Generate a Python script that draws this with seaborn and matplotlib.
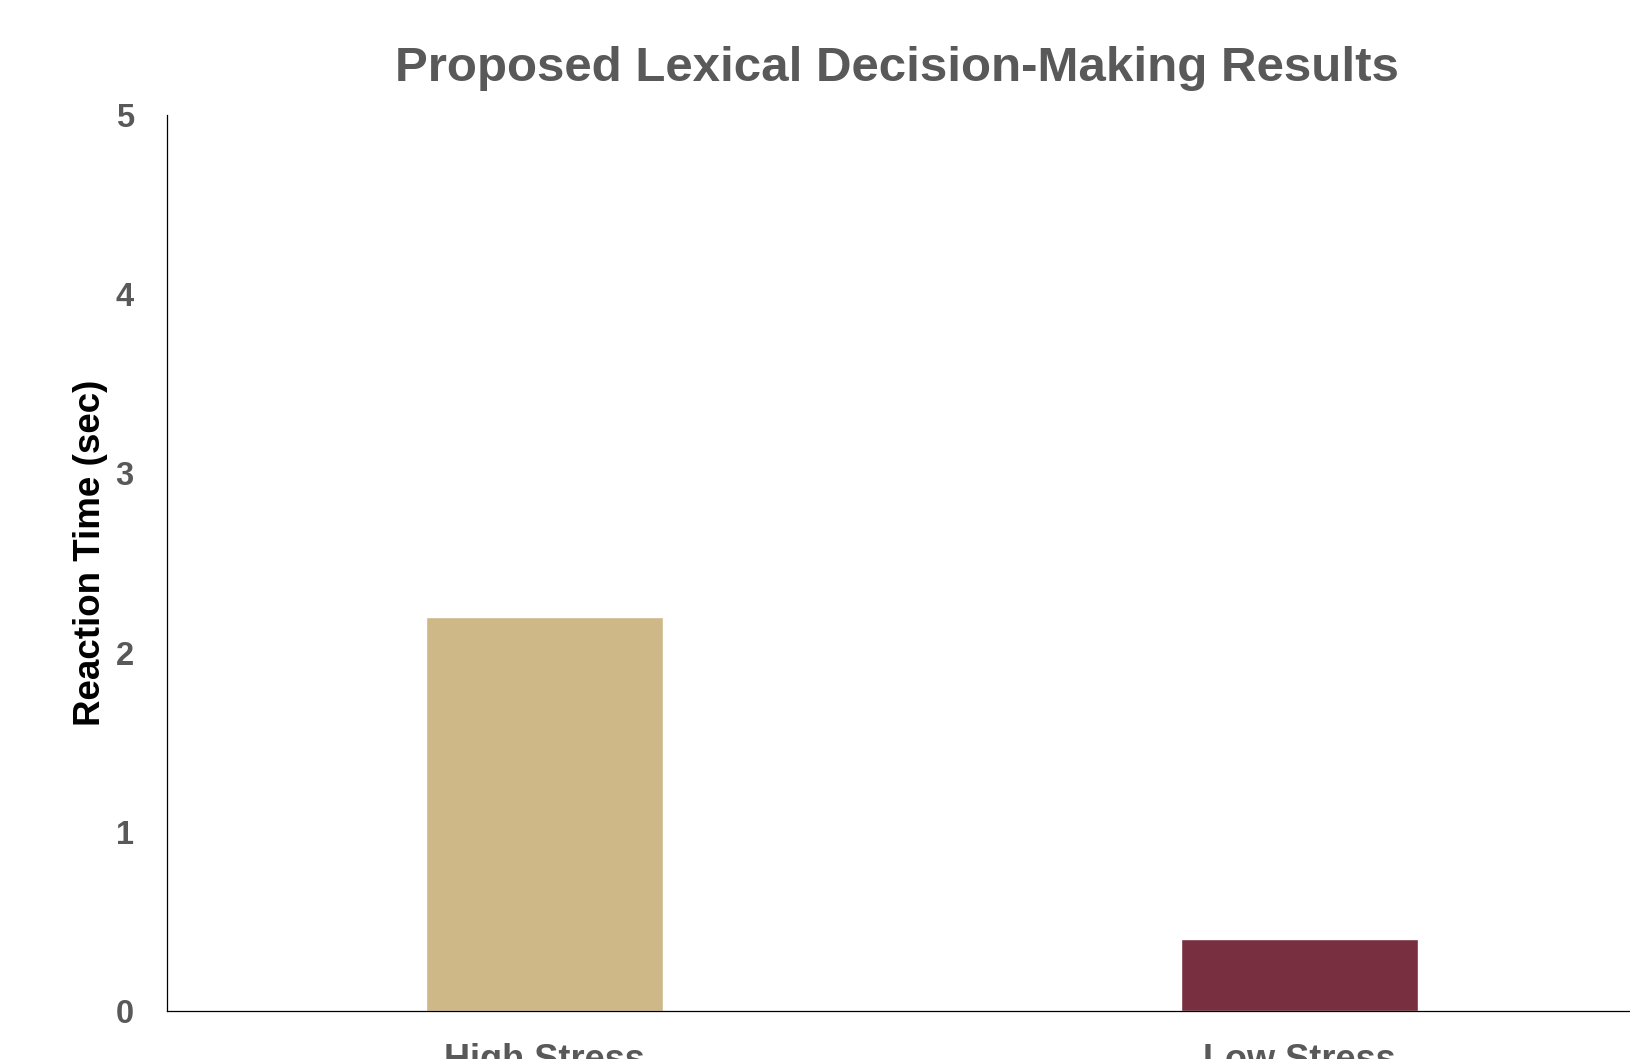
import numpy as np
import pandas as pd
import matplotlib
matplotlib.use("Agg")
import matplotlib.pyplot as plt
import seaborn as sns

conditions = ["High Stress", "Low Stress"]
reaction_time = [2.2, 0.4]
bar_colors = ["#CEB888", "#782F40"]
y_ticks = [0, 1, 2, 3, 4, 5]

df = pd.DataFrame({"condition": conditions, "rt": reaction_time})

sns.set_style("white")
plt.rcParams["font.family"] = ["Liberation Sans", "DejaVu Sans"]

fig = plt.figure(figsize=(16.31, 10.59), dpi=100)
ax = fig.add_axes([167 / 1631, 48 / 1059, 1510 / 1631, 896 / 1059])

sns.barplot(data=df, x="condition", y="rt", hue="condition",
            palette=bar_colors, width=0.314, legend=False, ax=ax,
            saturation=1)

ax.set_xlim(-0.5, 1.5)
ax.set_ylim(0, 5)
ax.set_yticks(y_ticks)
ax.tick_params(axis="y", length=0, labelsize=23.5, labelcolor="#595959", pad=24)
ax.tick_params(axis="x", length=0, labelsize=26, labelcolor="#595959", pad=23)
for lab in ax.get_xticklabels() + ax.get_yticklabels():
    lab.set_fontweight("bold")

ax.set_xlabel("")
ax.set_ylabel("Reaction Time (sec)", fontsize=26.5, fontweight="bold", color="black")
ax.yaxis.set_label_coords(-0.039, 0.511)

sns.despine(ax=ax)
for side in ["left", "bottom"]:
    ax.spines[side].set_color("black")
    ax.spines[side].set_linewidth(0.9)

fig.text(897 / 1631, 0.935, "Proposed Lexical Decision-Making Results",
         ha="center", va="center", fontsize=35.5, fontweight="bold", color="#595959")

fig.savefig("out.png", dpi=100)
